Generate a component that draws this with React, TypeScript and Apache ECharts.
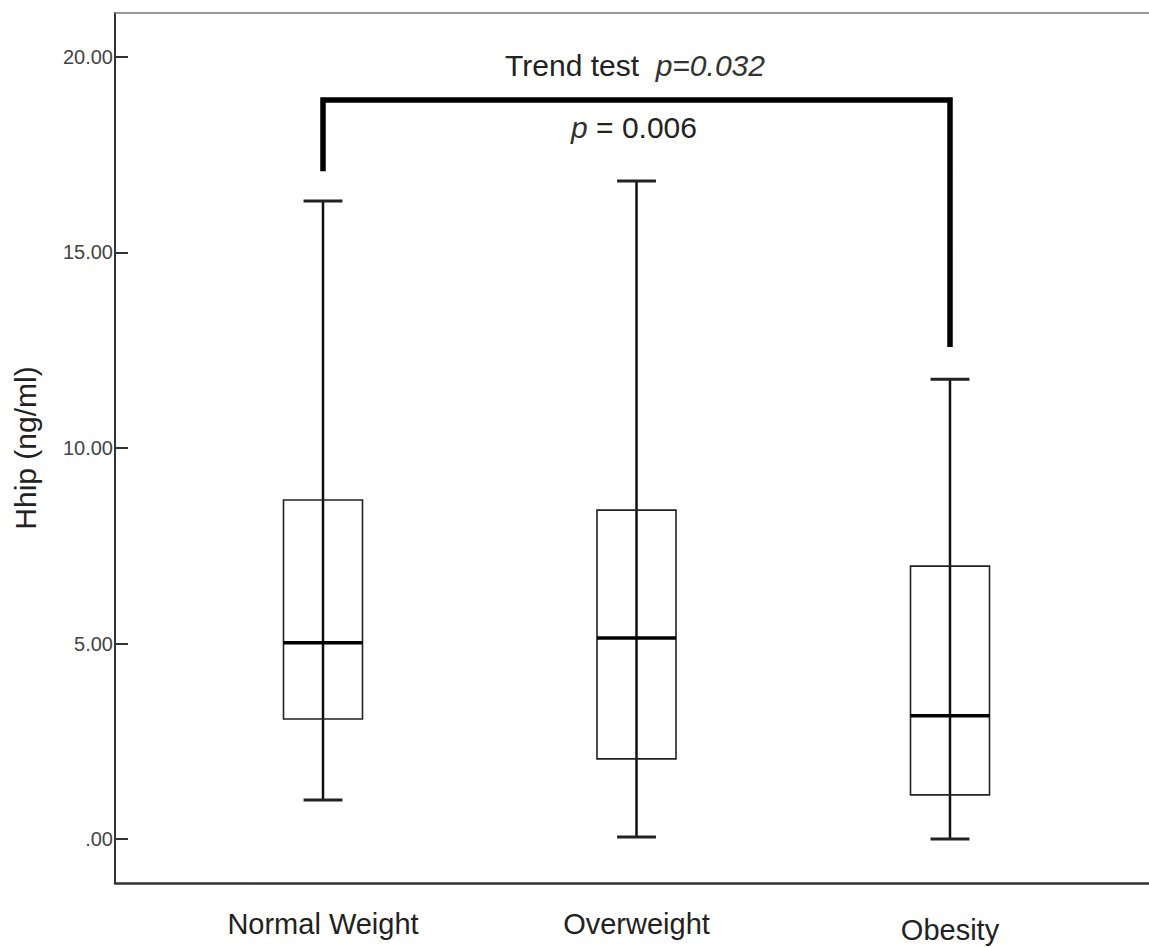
import React, { useEffect, useRef } from "react";
import * as echarts from "echarts";

const categories = ["Normal Weight", "Overweight", "Obesity"];
const whiskerLow = [1.0, 0.05, 0.0];
const q1 = [3.07, 2.05, 1.13];
const median = [5.02, 5.14, 3.15];
const q3 = [8.67, 8.41, 6.98];
const whiskerHigh = [16.32, 16.83, 11.76];
const yTicks = [0, 5, 10, 15, 20];
const bracketX = [0, 0, 2, 2];
const bracketY = [17.08, 18.9, 18.9, 12.58];
const yAxisTitle = "Hhip (ng/ml)";
const trendLabel = "Trend test  ";
const trendP = "p=0.032";
const pairP = "0.006";

const Y_MIN = -1.125;
const Y_MAX = 21.125;
const FONT = "'Liberation Sans', Arial, sans-serif";

export default function App() {
  const ref = useRef<HTMLDivElement>(null);
  useEffect(() => {
    document.body.style.margin = "0";
    const chart = echarts.init(ref.current!, null, { renderer: "svg" });
    const boxData = categories.map((_, i) => [
      i,
      whiskerLow[i],
      q1[i],
      median[i],
      q3[i],
      whiskerHigh[i],
    ]);
    const option: any = {
      animation: false,
      backgroundColor: "#ffffff",
      grid: [
        { left: 115, right: 0, top: 13, bottom: 64, outerBoundsMode: "none", containLabel: false },
        { left: 166.25, right: 42.25, top: 13, bottom: 64, outerBoundsMode: "none", containLabel: false },
      ],
      xAxis: [
        {
          type: "value", gridIndex: 0, min: 0, max: 1, position: "bottom",
          axisLine: { show: true, onZero: false, lineStyle: { color: "#333", width: 2.5 } },
          axisTick: { show: false }, axisLabel: { show: false }, splitLine: { show: false },
        },
        {
          type: "value", gridIndex: 0, min: 0, max: 1, position: "top",
          axisLine: { show: true, onZero: false, lineStyle: { color: "#777", width: 1.5 } },
          axisTick: { show: false }, axisLabel: { show: false }, splitLine: { show: false },
        },
        {
          type: "category", gridIndex: 1, data: categories, boundaryGap: true,
          axisLine: { show: false }, axisTick: { show: false }, splitLine: { show: false },
          axisLabel: {
            show: true,
            margin: 26,
            formatter: (v: string, i: number) => (i === 2 ? `{low|${v}}` : `{n|${v}}`),
            rich: {
              n: { fontSize: 29, color: "#222", fontFamily: FONT },
              low: { fontSize: 29, color: "#222", fontFamily: FONT, padding: [6, 0, 0, 0] },
            },
          },
        },
      ],
      yAxis: [
        {
          type: "value", gridIndex: 0, min: Y_MIN, max: Y_MAX,
          name: yAxisTitle, nameLocation: "middle", nameRotate: 90, nameGap: 75,
          nameTextStyle: { fontSize: 30, color: "#222", fontFamily: FONT },
          axisLine: { show: true, onZero: false, lineStyle: { color: "#333", width: 2 } },
          axisTick: {
            show: true, inside: true, length: 13, customValues: yTicks,
            lineStyle: { color: "#333", width: 2 },
          },
          axisLabel: {
            show: true, margin: 2, customValues: yTicks, fontSize: 20, color: "#444",
            fontFamily: FONT,
            formatter: (v: number) => (v === 0 ? ".00" : v.toFixed(2)),
          },
          splitLine: { show: false },
        },
        {
          type: "value", gridIndex: 1, min: Y_MIN, max: Y_MAX, show: false,
          splitLine: { show: false },
        },
      ],
      series: [
        {
          type: "custom",
          xAxisIndex: 2,
          yAxisIndex: 1,
          encode: { x: 0, y: [1, 2, 3, 4, 5] },
          data: boxData,
          renderItem: (params: any, api: any) => {
            const i = api.value(0);
            const pLo = api.coord([i, api.value(1)]);
            const pQ1 = api.coord([i, api.value(2)]);
            const pMed = api.coord([i, api.value(3)]);
            const pQ3 = api.coord([i, api.value(4)]);
            const pHi = api.coord([i, api.value(5)]);
            const band = api.size([1, 0])[0];
            const bw = band * 0.252;
            const cw = band * 0.124;
            const cx = pMed[0];
            return {
              type: "group",
              children: [
                {
                  type: "line",
                  shape: { x1: cx, y1: pLo[1], x2: cx, y2: pHi[1] },
                  style: { stroke: "#111", lineWidth: 2.5 },
                },
                {
                  type: "rect",
                  shape: { x: cx - bw / 2, y: pQ3[1], width: bw, height: pQ1[1] - pQ3[1] },
                  style: { fill: "none", stroke: "#222", lineWidth: 1.6 },
                },
                {
                  type: "line",
                  shape: { x1: cx - bw / 2, y1: pMed[1], x2: cx + bw / 2, y2: pMed[1] },
                  style: { stroke: "#000", lineWidth: 3.5 },
                },
                {
                  type: "line",
                  shape: { x1: cx - cw / 2, y1: pHi[1], x2: cx + cw / 2, y2: pHi[1] },
                  style: { stroke: "#222", lineWidth: 3 },
                },
                {
                  type: "line",
                  shape: { x1: cx - cw / 2, y1: pLo[1], x2: cx + cw / 2, y2: pLo[1] },
                  style: { stroke: "#222", lineWidth: 3 },
                },
              ],
            };
          },
        },
        {
          type: "line",
          xAxisIndex: 2,
          yAxisIndex: 1,
          data: bracketX.map((x, k) => [x, bracketY[k]]),
          symbol: "none",
          lineStyle: { color: "#000", width: 5.5, join: "miter", cap: "butt" },
          silent: true,
        },
      ],
      graphic: [
        {
          type: "text",
          x: 635,
          y: 65,
          style: {
            text: `{a|${trendLabel}}{b|${trendP}}`,
            align: "center",
            verticalAlign: "middle",
            rich: {
              a: { fontSize: 30, fill: "#222", fontFamily: FONT },
              b: { fontSize: 30, fill: "#333", fontFamily: FONT, fontStyle: "italic" },
            },
          },
        },
        {
          type: "text",
          x: 634,
          y: 127,
          style: {
            text: `{b|p}{a| = ${pairP}}`,
            align: "center",
            verticalAlign: "middle",
            rich: {
              a: { fontSize: 30, fill: "#222", fontFamily: FONT },
              b: { fontSize: 30, fill: "#333", fontFamily: FONT, fontStyle: "italic" },
            },
          },
        },
      ],
    };
    chart.setOption(option);
    return () => chart.dispose();
  }, []);
  return <div ref={ref} style={{ width: 1149, height: 947 }} />;
}
